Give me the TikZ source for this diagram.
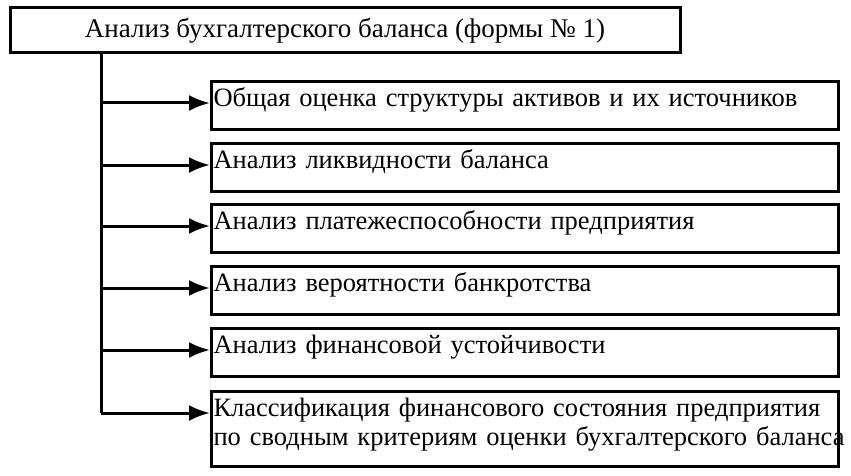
\documentclass[tikz,border=0pt]{standalone}
\usepackage{fontspec}
\setmainfont{Liberation Serif}
\usetikzlibrary{arrows.meta}

\begin{document}
\begin{tikzpicture}[>={Latex[length=21pt,width=16pt]}, x=1pt, y=-1pt,
  font=\fontsize{26.5}{29}\selectfont,
  frame/.style={draw, line width=3pt},
  mainbox/.style={frame, minimum width=670pt, minimum height=45pt, inner sep=0pt,
    font=\fontsize{27}{29}\selectfont},
  itembox/.style={frame, anchor=north west, text width=623pt, align=left,
    inner xsep=2pt, inner ysep=5pt, text height=20pt, text depth=18pt},
  link/.style={line width=3pt}]

\useasboundingbox (0,0) rectangle (851,476);

\node[mainbox] (bal) at (345,30.5) {Анализ бухгалтерского баланса (формы № 1)};

\node[itembox] (b1) at (210,80) {Общая оценка структуры активов и их источников};
\node[itembox] (b2) at (210,142) {Анализ ликвидности баланса};
\node[itembox] (b3) at (210,203) {Анализ платежеспособности предприятия};
\node[itembox] (b4) at (210,265) {Анализ вероятности банкротства};
\node[itembox] (b5) at (210,327) {Анализ финансовой устойчивости};
\node[itembox, text depth=45pt] (b6) at (210,390) {\mbox{Классификация финансового состояния предприятия}\\\mbox{по сводным критериям оценки бухгалтерского баланса}};

\coordinate (trunk) at (101,53);
\foreach \i in {1,...,6}
  \coordinate (a\i) at ([yshift=-23pt]b\i.north west);

\draw[link] (bal.south -| trunk) -- (a6 -| trunk);
\foreach \i in {1,...,6}
  \draw[link, ->] (a\i -| trunk) -- (a\i);

\end{tikzpicture}
\end{document}
